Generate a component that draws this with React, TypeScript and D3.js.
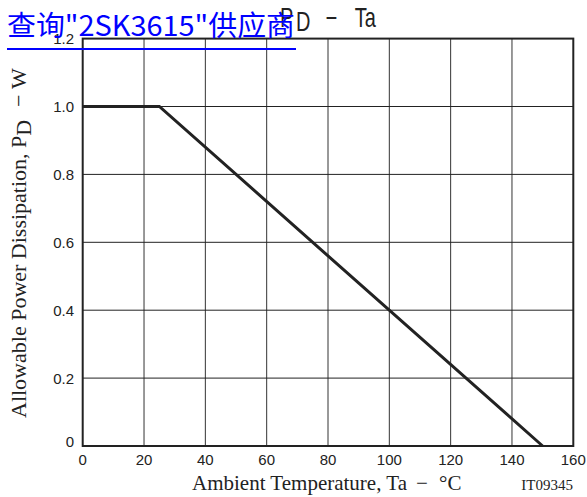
import React from "react";
import * as d3 from "d3";

const temps = [0, 25, 150];
const power = [1.0, 1.0, 0];
const xTicks = [0, 20, 40, 60, 80, 100, 120, 140, 160];
const yTicks = [0, 0.2, 0.4, 0.6, 0.8, 1.0, 1.2];
const yTickLabels = ["0", "0.2", "0.4", "0.6", "0.8", "1.0", "1.2"];

const W = 587;
const H = 497;

export default function App() {
  const x = d3.scaleLinear().domain([0, 160]).range([82.7, 573.3]);
  const y = d3.scaleLinear().domain([0, 1.2]).range([446, 38.6]);
  const line = d3
    .line<number>()
    .x((_, i) => x(temps[i]))
    .y((d) => y(d));
  const sans = "'Liberation Sans', Arial, sans-serif";
  const serif = "'Liberation Serif', 'Times New Roman', serif";
  return (
    <svg
      width={W}
      height={H}
      style={{ position: "absolute", left: 0, top: 0, background: "#fff" }}
    >
      {/* grid */}
      {xTicks.slice(1, -1).map((t) => (
        <line key={"vx" + t} x1={x(t)} x2={x(t)} y1={y(1.2)} y2={y(0)} stroke="#333" strokeWidth={1} />
      ))}
      {yTicks.slice(1, -1).map((t) => (
        <line key={"hy" + t} x1={x(0)} x2={x(160)} y1={y(t)} y2={y(t)} stroke="#222" strokeWidth={1} />
      ))}
      {/* frame */}
      <rect
        x={x(0)}
        y={y(1.2)}
        width={x(160) - x(0)}
        height={y(0) - y(1.2)}
        fill="none"
        stroke="#222"
        strokeWidth={2}
      />
      {/* data */}
      <path d={line(power) || ""} fill="none" stroke="#222" strokeWidth={3} />
      {/* y tick labels */}
      {yTicks.map((t, i) => (
        <text
          key={"yl" + t}
          x={74}
          y={y(t) + (t === 0 ? -4 : 0)}
          dy="0.36em"
          textAnchor="end"
          fontFamily={sans}
          fontSize={15}
          fill="#222"
        >
          {yTickLabels[i]}
        </text>
      ))}
      {/* x tick labels */}
      {xTicks.map((t) => (
        <text
          key={"xl" + t}
          x={x(t)}
          y={465}
          textAnchor="middle"
          fontFamily={sans}
          fontSize={15}
          fill="#222"
        >
          {t}
        </text>
      ))}
      {/* x axis title */}
      <text x={192} y={490} fontFamily={serif} fontSize={21} fill="#222">
        Ambient Temperature, Ta
        <tspan x={416}>−</tspan>
        <tspan x={439}>°C</tspan>
      </text>
      <text x={573} y={490} textAnchor="end" fontFamily={serif} fontSize={15} fill="#222">
        IT09345
      </text>
      {/* y axis title */}
      <g transform="translate(26,418) rotate(-90)">
        <text x={0} y={0} fontFamily={serif} fontSize={22} fill="#222">
          Allowable Power Dissipation, P
          <tspan dy={5}>D</tspan>
          <tspan x={311} dy={-5}>−</tspan>
          <tspan x={329}>W</tspan>
        </text>
      </g>
      {/* title */}
      <g transform="translate(280,27) scale(0.74,1)">
        <text x={0} y={0} fontFamily={sans} fontSize={27} fill="#222">
          P
          <tspan x={21.5} dy={4}>D</tspan>
          <tspan x={62} dy={-4}>−</tspan>
          <tspan x={101}>Ta</tspan>
        </text>
      </g>
      {/* overlay link */}
      <text
        x={7}
        y={36}
        fontFamily="'Noto Sans CJK SC', sans-serif"
        fontSize={28}
        fill="#0000ff"
        textLength={288}
        lengthAdjust="spacingAndGlyphs"
      >
        查询"2SK3615"供应商
      </text>
      <line x1={7} x2={296} y1={49} y2={49} stroke="#0000ff" strokeWidth={2} />
    </svg>
  );
}
